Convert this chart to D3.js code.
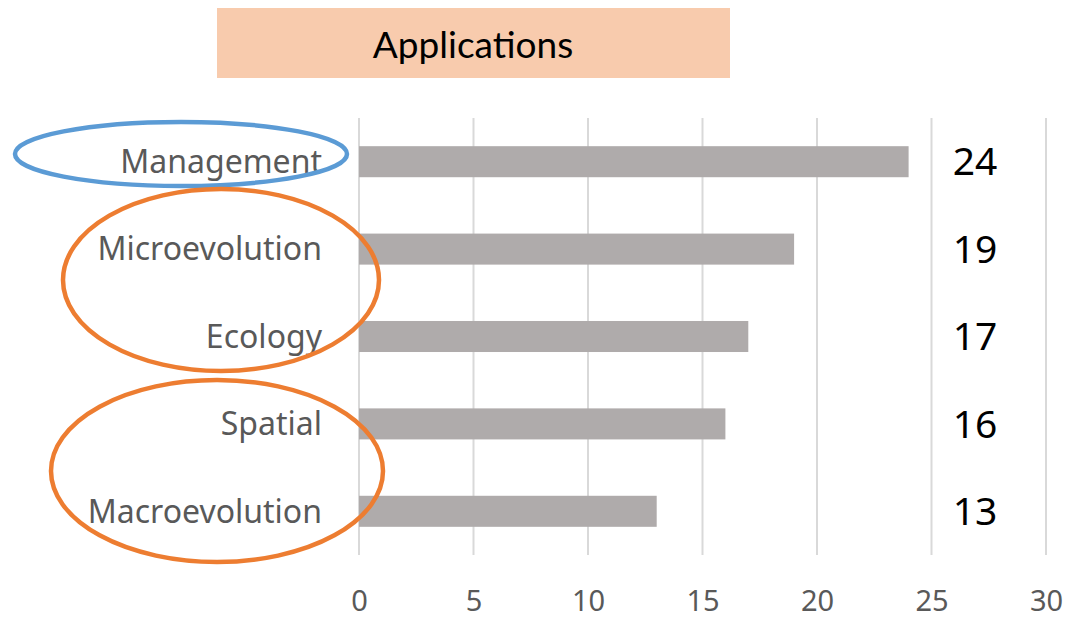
<!DOCTYPE html>
<html>
<head>
<meta charset="utf-8">
<script src="https://cdn.jsdelivr.net/npm/d3@7"></script>
<style>
  body { margin: 0; background: #fff; }
  svg { display: block; }
</style>
</head>
<body>
<div id="chart"></div>
<script>
const categories = ["Management", "Microevolution", "Ecology", "Spatial", "Macroevolution"];
const counts = [24, 19, 17, 16, 13];
const xTicks = [0, 5, 10, 15, 20, 25, 30];
const title = "Applications";

const width = 1069, height = 621;
const plot = { left: 359, right: 1046, top: 118, bottom: 555 };

const svg = d3.select("#chart").append("svg")
  .attr("width", width)
  .attr("height", height)
  .attr("font-family", "'Noto Sans', sans-serif");

const x = d3.scaleLinear().domain([0, 30]).range([plot.left, plot.right]);
const y = d3.scaleBand()
  .domain(categories)
  .range([plot.top, plot.bottom])
  .paddingInner(0.645)
  .paddingOuter(0.3225);

// title box
svg.append("rect")
  .attr("x", 217).attr("y", 8)
  .attr("width", 513).attr("height", 70)
  .attr("fill", "#F8CBAD");
svg.append("text")
  .attr("x", 473).attr("y", 45)
  .attr("dy", "0.35em")
  .attr("text-anchor", "middle")
  .attr("font-family", "'Lato', sans-serif")
  .attr("font-size", 37)
  .attr("fill", "#000")
  .text(title);

// gridlines
svg.append("g")
  .selectAll("line")
  .data(xTicks)
  .join("line")
  .attr("x1", d => x(d)).attr("x2", d => x(d))
  .attr("y1", plot.top).attr("y2", plot.bottom)
  .attr("stroke", "#D9D9D9")
  .attr("stroke-width", 2);

// x axis labels
const xAxis = d3.axisBottom(x).tickValues(xTicks).tickSize(0).tickPadding(0);
svg.append("g")
  .attr("transform", `translate(0,${plot.bottom})`)
  .call(xAxis)
  .call(g => g.select(".domain").remove())
  .call(g => g.selectAll("text")
    .attr("y", 46)
    .attr("dy", "0.35em")
    .attr("font-size", 29)
    .attr("font-family", "'Noto Sans', sans-serif")
    .attr("fill", "#595959"));

// bars
svg.append("g")
  .selectAll("rect")
  .data(counts)
  .join("rect")
  .attr("x", x(0))
  .attr("y", (d, i) => y(categories[i]))
  .attr("width", d => x(d) - x(0))
  .attr("height", y.bandwidth())
  .attr("fill", "#AFABAB");

// category labels
svg.append("g")
  .selectAll("text")
  .data(categories)
  .join("text")
  .attr("x", 322)
  .attr("y", d => y(d) + y.bandwidth() / 2)
  .attr("dy", "0.35em")
  .attr("text-anchor", "end")
  .attr("font-size", 32)
  .attr("fill", "#595959")
  .text(d => d);

// value labels
svg.append("g")
  .selectAll("text")
  .data(counts)
  .join("text")
  .attr("x", 975)
  .attr("y", (d, i) => y(categories[i]) + y.bandwidth() / 2)
  .attr("dy", "0.35em")
  .attr("text-anchor", "middle")
  .attr("font-size", 39)
  .attr("fill", "#000")
  .text(d => d);

// annotation ellipses
const rings = [
  { cx: 181, cy: 154, rx: 166, ry: 32, color: "#5B9BD5" },
  { cx: 221, cy: 280, rx: 158, ry: 91, color: "#ED7D31" },
  { cx: 217, cy: 471, rx: 166, ry: 91, color: "#ED7D31" }
];
svg.append("g")
  .selectAll("ellipse")
  .data(rings)
  .join("ellipse")
  .attr("cx", d => d.cx).attr("cy", d => d.cy)
  .attr("rx", d => d.rx).attr("ry", d => d.ry)
  .attr("fill", "none")
  .attr("stroke", d => d.color)
  .attr("stroke-width", 4.5);
</script>
</body>
</html>
